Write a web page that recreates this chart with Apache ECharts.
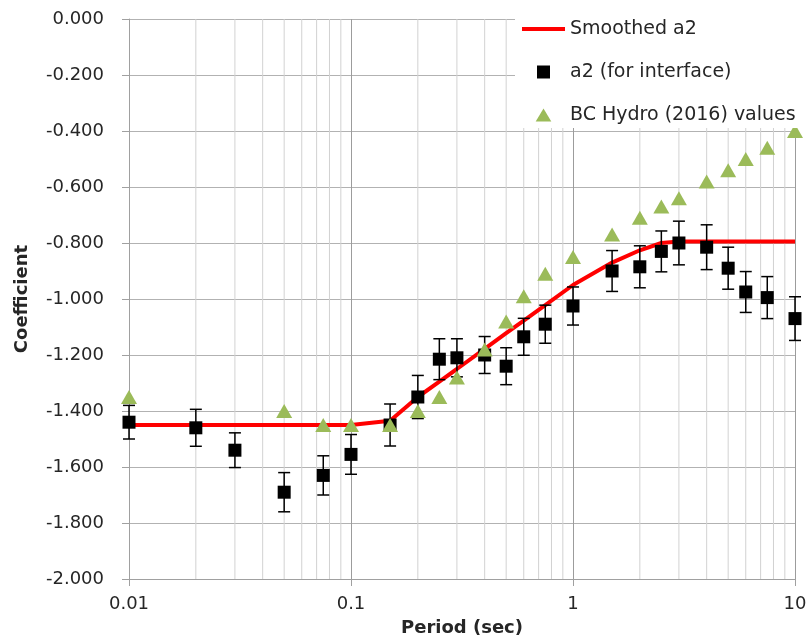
<!DOCTYPE html>
<html>
<head>
<meta charset="utf-8">
<title>a2 coefficient vs period</title>
<script src="https://cdn.jsdelivr.net/npm/echarts@6/dist/echarts.min.js"></script>
<style>
  html, body { margin: 0; padding: 0; background: #fff; }
  #chart { width: 811px; height: 642px; }
</style>
</head>
<body>
<div id="chart"></div>
<script>
// Spectral periods (sec)
const periods = [0.01, 0.02, 0.03, 0.05, 0.075, 0.1, 0.15, 0.2, 0.25, 0.3, 0.4, 0.5,
                 0.6, 0.75, 1, 1.5, 2, 2.5, 3, 4, 5, 6, 7.5, 10];

// Smoothed a2 model
const smoothedA2 = [-1.45, -1.45, -1.45, -1.45, -1.45, -1.45, -1.435, -1.35, -1.295, -1.25, -1.178, -1.122,
                    -1.077, -1.022, -0.95, -0.87, -0.826, -0.80, -0.795, -0.795, -0.795, -0.795, -0.795, -0.795];

// Regressed a2 (for interface) and its standard error
const a2Interface = [-1.44, -1.46, -1.54, -1.69, -1.63, -1.555, -1.45, -1.35, -1.215, -1.21, -1.20, -1.24,
                     -1.135, -1.09, -1.025, -0.90, -0.885, -0.83, -0.80, -0.815, -0.89, -0.975, -0.995, -1.07];
const a2StdErr = [0.06, 0.066, 0.062, 0.07, 0.07, 0.071, 0.075, 0.077, 0.073, 0.068, 0.066, 0.066,
                  0.066, 0.068, 0.068, 0.073, 0.075, 0.073, 0.078, 0.08, 0.075, 0.073, 0.075, 0.078];

// BC Hydro (2016) theta2 values
const bcPeriods = [0.01, 0.05, 0.075, 0.1, 0.15, 0.2, 0.25, 0.3, 0.4, 0.5, 0.6, 0.75,
                   1, 1.5, 2, 2.5, 3, 4, 5, 6, 7.5, 10];
const bcHydro = [-1.35, -1.40, -1.45, -1.45, -1.45, -1.40, -1.35, -1.28, -1.18, -1.08, -0.99, -0.91,
                 -0.85, -0.77, -0.71, -0.67, -0.64, -0.58, -0.54, -0.50, -0.46, -0.40];

// Axis tick labels
const xTickLabels = ['0.01', '0.1', '1', '10'];

// Minor log gridlines (2..9 within each decade)
const minorGrid = [0.02, 0.03, 0.04, 0.05, 0.06, 0.07, 0.08, 0.09,
                   0.2, 0.3, 0.4, 0.5, 0.6, 0.7, 0.8, 0.9,
                   2, 3, 4, 5, 6, 7, 8, 9];

const FONT = 'DejaVu Sans';
const TEXT = '#262626';

const chart = echarts.init(document.getElementById('chart'), null, { renderer: 'canvas' });

chart.setOption({
  animation: false,
  backgroundColor: '#ffffff',
  textStyle: { fontFamily: FONT },
  grid: { left: 129, right: 16, top: 19, bottom: 62, containLabel: false },
  legend: {
    orient: 'vertical',
    left: 515,
    top: 2,
    z: 20,
    backgroundColor: '#ffffff',
    padding: [15, 40, 1, 7],
    itemWidth: 43,
    itemHeight: 13,
    itemGap: 19,
    data: [
      { name: 'Smoothed a2', icon: 'path://M0,0h43v4h-43z' },
      { name: 'a2 (for interface)', icon: 'path://M0,0h10v10h-10z' },
      { name: 'BC Hydro (2016) values', icon: 'path://M6,0L12,10L0,10z' }
    ],
    textStyle: { fontFamily: FONT, fontSize: 19, color: TEXT, lineHeight: 24 },
    selectedMode: false
  },
  xAxis: {
    type: 'log',
    logBase: 10,
    min: 0.01,
    max: 10,
    name: 'Period (sec)',
    nameLocation: 'middle',
    nameGap: 40,
    nameTextStyle: { fontFamily: FONT, fontSize: 18, fontWeight: 'bold', color: TEXT },
    axisLine: { show: true, onZero: false, lineStyle: { color: '#a0a0a0', width: 1 } },
    axisTick: { show: true, inside: false, length: 7, lineStyle: { color: '#a0a0a0' } },
    axisLabel: {
      fontFamily: FONT, fontSize: 18, color: TEXT, margin: 16,
      formatter: function (v) {
        const i = Math.round(Math.log10(v)) + 2;
        return xTickLabels[i] !== undefined ? xTickLabels[i] : '';
      }
    },
    splitLine: { show: true, lineStyle: { color: '#9c9c9c', width: 1 } },
    minorTick: { show: false },
    minorSplitLine: { show: false }
  },
  yAxis: {
    type: 'value',
    min: -2,
    max: 0,
    interval: 0.2,
    name: 'Coefficient',
    nameLocation: 'middle',
    nameGap: 98,
    nameTextStyle: { fontFamily: FONT, fontSize: 18, fontWeight: 'bold', color: TEXT },
    axisLine: { show: true, onZero: false, lineStyle: { color: '#a0a0a0', width: 1 } },
    axisTick: { show: true, inside: false, length: 7, lineStyle: { color: '#a0a0a0' } },
    axisLabel: {
      fontFamily: FONT, fontSize: 18, color: TEXT, margin: 25,
      formatter: function (v) { return (Math.abs(v) < 1e-9 ? 0 : v).toFixed(3); }
    },
    splitLine: { show: true, lineStyle: { color: '#b2b2b2', width: 1 } }
  },
  series: [
    {
      // minor vertical gridlines of the log axis
      name: 'minor grid',
      type: 'custom',
      silent: true,
      z: 1,
      data: minorGrid.map(function (x) { return [x]; }),
      encode: { x: 0 },
      renderItem: function (params, api) {
        const x = api.value(0);
        const top = api.coord([x, 0]);
        const bot = api.coord([x, -2]);
        return {
          type: 'line',
          shape: { x1: top[0], y1: top[1], x2: bot[0], y2: bot[1] },
          style: { stroke: '#d2d2d2', lineWidth: 1 }
        };
      }
    },
    {
      name: 'Smoothed a2',
      type: 'line',
      z: 2,
      symbol: 'none',
      smooth: false,
      data: periods.map(function (p, i) { return [p, smoothedA2[i]]; }),
      lineStyle: { color: '#ff0000', width: 4 },
      itemStyle: { color: '#ff0000' }
    },
    {
      // standard-error bars on the a2 estimates
      name: 'a2 error',
      type: 'custom',
      z: 3,
      silent: true,
      data: periods.map(function (p, i) {
        return [p, a2Interface[i] - a2StdErr[i], a2Interface[i] + a2StdErr[i]];
      }),
      encode: { x: 0, y: [1, 2] },
      renderItem: function (params, api) {
        const x = api.value(0);
        const lo = api.coord([x, api.value(1)]);
        const hi = api.coord([x, api.value(2)]);
        const cap = 6;
        const st = { stroke: '#000', lineWidth: 1.5 };
        return {
          type: 'group',
          children: [
            { type: 'line', shape: { x1: hi[0], y1: hi[1], x2: lo[0], y2: lo[1] }, style: st },
            { type: 'line', shape: { x1: hi[0] - cap, y1: hi[1], x2: hi[0] + cap, y2: hi[1] }, style: st },
            { type: 'line', shape: { x1: lo[0] - cap, y1: lo[1], x2: lo[0] + cap, y2: lo[1] }, style: st }
          ]
        };
      }
    },
    {
      name: 'a2 (for interface)',
      type: 'scatter',
      z: 4,
      symbol: 'rect',
      symbolSize: 13,
      data: periods.map(function (p, i) { return [p, a2Interface[i]]; }),
      itemStyle: { color: '#000000', opacity: 1 }
    },
    {
      name: 'BC Hydro (2016) values',
      type: 'scatter',
      z: 5,
      symbol: 'triangle',
      symbolSize: [16, 14],
      data: bcPeriods.map(function (p, i) { return [p, bcHydro[i]]; }),
      itemStyle: { color: '#9bbb59', opacity: 1 }
    }
  ]
});
</script>
</body>
</html>
